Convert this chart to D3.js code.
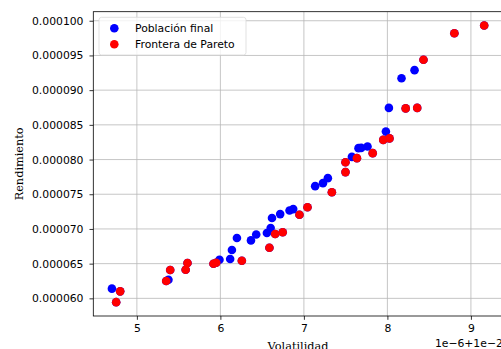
<!DOCTYPE html>
<html>
<head>
<meta charset="utf-8">
<script src="https://cdn.jsdelivr.net/npm/d3@7"></script>
<style>
  html, body { margin: 0; padding: 0; background: #fff; }
  svg { display: block; }
</style>
</head>
<body>
<div id="chart"></div>
<script>
// Volatility values shown as offset-axis units (x = 1e-2 + v*1e-6), returns in units of 1e-6
const poblacionX = [4.701, 5.378, 5.989, 6.117, 6.138, 6.198, 6.366, 6.429, 6.557, 6.602, 6.618, 6.716, 6.828, 6.872,
                    7.135, 7.228, 7.287, 7.575, 7.654, 7.686, 7.762, 7.982, 8.018, 8.169, 8.325];
const poblacionY = [61.40, 62.69, 65.57, 65.67, 66.96, 68.69, 68.35, 69.21, 69.41, 70.13, 71.57, 72.14, 72.66, 72.86,
                    76.17, 76.60, 77.32, 80.39, 81.64, 81.68, 81.87, 84.03, 87.44, 91.71, 92.88];
const paretoX = [4.800, 4.752, 5.351, 5.399, 5.584, 5.606, 5.917, 5.950, 6.257, 6.587, 6.656, 6.746, 6.947,
                 7.043, 7.335, 7.498, 7.498, 7.635, 7.824, 7.950, 8.025, 8.219, 8.357, 8.432, 8.802, 9.159];
const paretoY = [61.01, 59.45, 62.50, 64.09, 64.13, 65.09, 64.99, 65.14, 65.42, 67.29, 69.28, 69.53, 72.04,
                 73.12, 75.28, 78.19, 79.60, 80.20, 80.92, 82.83, 83.05, 87.37, 87.44, 94.39, 98.20, 99.31];
const xTicks = [5, 6, 7, 8, 9];
const yTicks = [60, 65, 70, 75, 80, 85, 90, 95, 100];
const seriesNames = ["Población final", "Frontera de Pareto"];
const seriesColors = ["#0000ff", "#ff0000"];
const xLabel = "Volatilidad";
const yLabel = "Rendimiento";
const offsetText = "1e\u22126+1e\u22122";

(function () {
const W = 501, H = 349;
const mLeft = 93.3, mRight = 502.8, mTop = 11.7, mBottom = 316;

// Final population contains the Pareto front members too
const popX = poblacionX.concat(paretoX);
const popY = poblacionY.concat(paretoY);

function padded(arr) {
  const lo = d3.min(arr), hi = d3.max(arr), p = (hi - lo) * 0.05;
  return [lo - p, hi + p];
}
const x = d3.scaleLinear().domain(padded(popX)).range([mLeft, mRight]);
const y = d3.scaleLinear().domain(padded(popY)).range([mBottom, mTop]);

const svg = d3.select("#chart").append("svg")
  .attr("width", W).attr("height", H);

const clipId = "plotclip";
svg.append("defs").append("clipPath").attr("id", clipId)
  .append("rect").attr("x", mLeft).attr("y", mTop).attr("width", mRight - mLeft).attr("height", mBottom - mTop);

// grid
const grid = svg.append("g").attr("clip-path", `url(#${clipId})`);
grid.selectAll("line.gx").data(xTicks).join("line")
  .attr("x1", d => x(d)).attr("x2", d => x(d))
  .attr("y1", mTop).attr("y2", mBottom)
  .attr("stroke", "#b8b8b8").attr("stroke-width", 0.8);
grid.selectAll("line.gy").data(yTicks).join("line")
  .attr("x1", mLeft).attr("x2", mRight)
  .attr("y1", d => y(d)).attr("y2", d => y(d))
  .attr("stroke", "#b8b8b8").attr("stroke-width", 0.8);

// axes
const tickFont = "DejaVu Sans, sans-serif";
const xAxis = d3.axisBottom(x).tickValues(xTicks).tickSize(3.8).tickPadding(5).tickFormat(d3.format("d"));
const yAxis = d3.axisLeft(y).tickValues(yTicks).tickSize(3.8).tickPadding(6)
  .tickFormat(d => (d * 1e-6).toFixed(6));

const gx = svg.append("g").attr("transform", `translate(0,${mBottom})`).call(xAxis);
const gy = svg.append("g").attr("transform", `translate(${mLeft},0)`).call(yAxis);
[gx, gy].forEach(g => {
  g.select(".domain").remove();
  g.selectAll(".tick line").attr("stroke", "#000").attr("stroke-width", 0.8);
  g.selectAll(".tick text").attr("font-family", tickFont).attr("font-size", 10.8).attr("fill", "#000");
});

// points
const plot = svg.append("g").attr("clip-path", `url(#${clipId})`);
const r = 4.3;
plot.selectAll("circle.pop").data(d3.range(popX.length)).join("circle")
  .attr("class", "pop")
  .attr("cx", i => x(popX[i])).attr("cy", i => y(popY[i])).attr("r", r)
  .attr("fill", seriesColors[0]);
plot.selectAll("circle.par").data(d3.range(paretoX.length)).join("circle")
  .attr("class", "par")
  .attr("cx", i => x(paretoX[i])).attr("cy", i => y(paretoY[i])).attr("r", r)
  .attr("fill", seriesColors[1]);

// spines
svg.append("rect").attr("x", mLeft).attr("y", mTop).attr("width", mRight - mLeft).attr("height", mBottom - mTop)
  .attr("fill", "none").attr("stroke", "#000").attr("stroke-width", 0.8);

// labels
svg.append("text").attr("x", (mLeft + mRight) / 2).attr("y", 350)
  .attr("text-anchor", "middle").attr("font-family", "DejaVu Serif, serif").attr("font-size", 11.3)
  .text(xLabel);
svg.append("text").attr("transform", `translate(23.3,${(mTop + mBottom) / 2}) rotate(-90)`)
  .attr("text-anchor", "middle").attr("font-family", "DejaVu Serif, serif").attr("font-size", 11.3)
  .text(yLabel);
svg.append("text").attr("x", mRight).attr("y", 347)
  .attr("text-anchor", "end").attr("font-family", tickFont).attr("font-size", 10.8)
  .text(offsetText);

// legend
const lg = svg.append("g");
lg.append("rect").attr("x", 99).attr("y", 17.3).attr("width", 147).attr("height", 37.7)
  .attr("rx", 2.5).attr("fill", "#fff").attr("fill-opacity", 0.8)
  .attr("stroke", "#d9d9d9").attr("stroke-width", 0.8);
seriesNames.forEach((name, i) => {
  const cy = 28.3 + i * 16;
  lg.append("circle").attr("cx", 114.3).attr("cy", cy).attr("r", r).attr("fill", seriesColors[i]);
  lg.append("text").attr("x", 135).attr("y", cy + 3.9)
    .attr("font-family", tickFont).attr("font-size", 10.8).attr("fill", "#000").text(name);
});
})();
</script>
</body>
</html>
